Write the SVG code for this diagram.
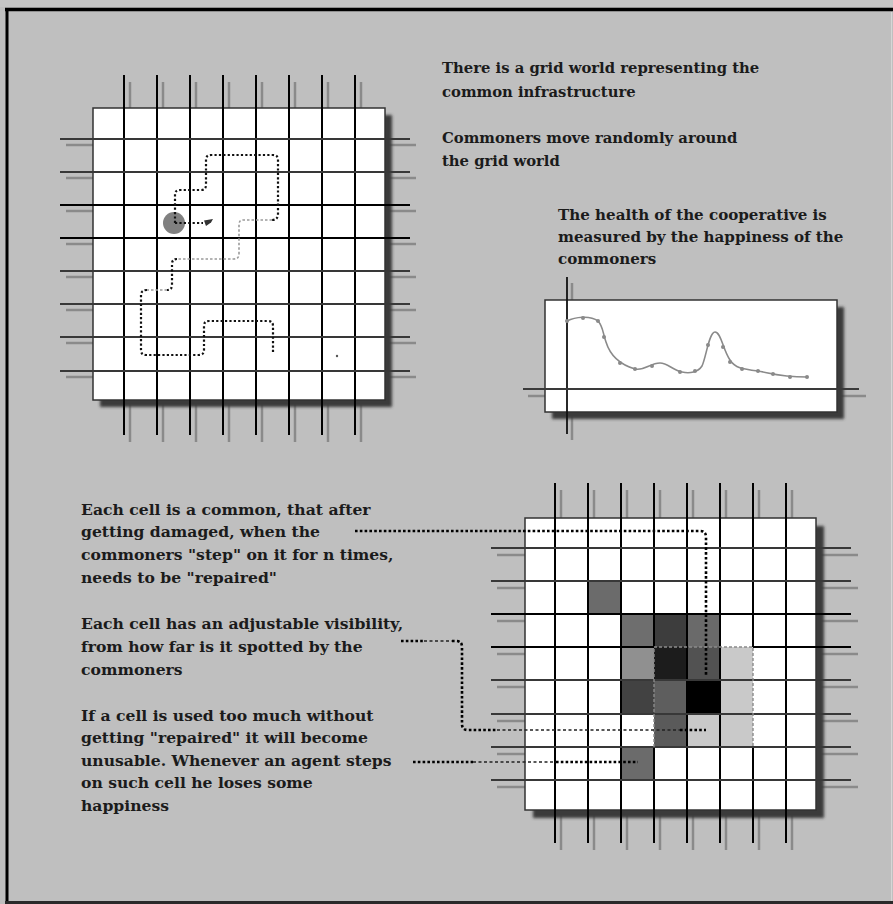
<svg xmlns="http://www.w3.org/2000/svg" width="893" height="904" viewBox="0 0 893 904">
<defs>
<style>
.txt{font-family:"DejaVu Serif","Liberation Serif",serif;font-size:14.8px;font-weight:bold;fill:#1b1b1b}
.txc{font-size:15.1px}
.txb{font-size:15.6px}
.gl{stroke:#000;stroke-width:2;fill:none}
.gl2{stroke:#383838;stroke-width:2;fill:none}
.sh{stroke:#8a8a8a;stroke-width:2.5;fill:none}
.sq{fill:#fff;stroke:#333;stroke-width:1.5}
.sqs{fill:#3a3a3a;filter:url(#blur)}
.walk{fill:none;stroke:#111;stroke-width:2.2;stroke-dasharray:2.2 2.2}
.walkg{fill:none;stroke:#9a9a9a;stroke-width:1.6;stroke-dasharray:2.5 2}
.con{fill:none;stroke:#000;stroke-width:2.6;stroke-dasharray:2.6 2.2}
.conthin{fill:none;stroke:#222;stroke-width:1.4;stroke-dasharray:3 2.5}
.vis{fill:none;stroke:#8a8a8a;stroke-width:1.4;stroke-dasharray:3 2}
.pt{fill:#8a8a8a}
</style>
<filter id="blur" x="-10%" y="-10%" width="120%" height="120%"><feGaussianBlur stdDeviation="1.6"/></filter>
</defs>
<rect x="0" y="0" width="893" height="904" fill="#bfbfbf"/>
<rect x="0" y="0" width="893" height="7" fill="#c6c6c6"/>
<g id="frame">
<line x1="5" y1="9.5" x2="893" y2="9.5" stroke="#000" stroke-width="3.5"/>
<line x1="7" y1="8" x2="7" y2="904" stroke="#000" stroke-width="3"/>
<line x1="5" y1="902.5" x2="893" y2="902.5" stroke="#2a2a2a" stroke-width="3"/>
<line x1="891.5" y1="12" x2="891.5" y2="901" stroke="#d6d6d6" stroke-width="1"/>
</g>

<g id="grid-world">
<path class="sh" d="M130,82V442M163,82V442M196,82V442M229,82V442M262,82V442M295,82V442M328,82V442M361,82V442M66,145H416M66,178H416M66,211H416M66,244H416M66,277H416M66,310H416M66,343H416M66,377H416"/>
<rect class="sqs" x="100" y="115" width="292" height="292"/>
<rect class="sq" x="93" y="108" width="292" height="292"/>
<path class="gl" d="M124,75V435M157,75V435M190,75V435M223,75V435M256,75V435M289,75V435M322,75V435M355,75V435M60,205H410M60,238H410"/>
<path class="gl2" d="M60,139H410M60,172H410M60,271H410M60,304H410M60,337H410M60,371H410"/>
<circle cx="174" cy="223" r="11" fill="#808080"/>
<path class="walk" d="M175,223H203"/>
<path class="walk" d="M175,223V195Q175,190 180,190H201Q206,190 206,185V160Q206,155 211,155H273Q278,155 278,160V214Q278,220 272,220"/>
<path class="walkg" d="M272,220H243Q239,220 239,225V254Q239,259 234,259H177"/>
<path class="walk" d="M177,259Q172,259 172,264V285Q172,290 167,290"/>
<path class="walkg" d="M167,290H147"/>
<path class="walk" d="M147,290Q141,290 141,295V350Q141,355 146,355H199Q204,355 204,350V326Q204,321 209,321H268Q273,321 273,326V353"/>
<path d="M204,220.5L213,219L211,222.5L206,226Z" fill="#333"/>
<circle cx="337" cy="356" r="1.2" fill="#555"/>
</g>

<g id="happiness-chart">
<path class="sh" d="M572,283V440M528,396H866"/>
<rect class="sqs" x="552" y="307" width="292" height="112"/>
<rect class="sq" x="545" y="300" width="292" height="112"/>
<path d="M567,277V434" stroke="#111" stroke-width="1.8" fill="none"/>
<path d="M523,389H859" stroke="#3a3a3a" stroke-width="2" fill="none"/>
<path d="M567,321C575,317 590,315 598,321C603,326 603,334 606,342C610,355 618,364 635,369C645,371 650,363 660,363C668,363 672,370 682,372C690,374 698,372 702,366C706,358 709,332 715,332C721,332 723,350 730,360C735,368 742,369 758,371C770,373 780,377 807,377" fill="none" stroke="#8a8a8a" stroke-width="1.6"/>
<circle class="pt" cx="567" cy="321" r="2"/><circle class="pt" cx="583" cy="318" r="2"/><circle class="pt" cx="598" cy="321" r="2"/><circle class="pt" cx="604" cy="337" r="2"/><circle class="pt" cx="620" cy="363" r="2"/><circle class="pt" cx="635" cy="369" r="2"/><circle class="pt" cx="652" cy="366" r="2"/><circle class="pt" cx="680" cy="372" r="2"/><circle class="pt" cx="695" cy="371" r="2"/><circle class="pt" cx="708" cy="345" r="2"/><circle class="pt" cx="723" cy="347" r="2"/><circle class="pt" cx="730" cy="362" r="2"/><circle class="pt" cx="742" cy="369" r="2"/><circle class="pt" cx="758" cy="371" r="2"/><circle class="pt" cx="773" cy="374" r="2"/><circle class="pt" cx="790" cy="377" r="2"/><circle class="pt" cx="807" cy="377" r="2"/>
</g>

<g id="cell-grid">
<path class="sh" d="M561,490V850M594,490V850M627,490V850M660,490V850M693,490V850M726,490V850M759,490V850M792,490V850M497,555H858M497,588H858M497,621H858M497,654H858M497,687H858M497,721H858M497,754H858M497,787H858"/>
<rect class="sqs" x="533" y="526" width="291" height="292"/>
<rect class="sq" x="525" y="518" width="291" height="292"/>
<rect x="588" y="581" width="33" height="33" fill="#6b6b6b"/>
<rect x="621" y="614" width="33" height="33" fill="#6e6e6e"/>
<rect x="654" y="614" width="33" height="33" fill="#3d3d3d"/>
<rect x="687" y="614" width="33" height="33" fill="#6a6a6a"/>
<rect x="621" y="647" width="33" height="33" fill="#909090"/>
<rect x="654" y="647" width="33" height="33" fill="#1c1c1c"/>
<rect x="687" y="647" width="33" height="33" fill="#525252"/>
<rect x="720" y="647" width="33" height="33" fill="#c9c9c9"/>
<rect x="621" y="680" width="33" height="34" fill="#424242"/>
<rect x="654" y="680" width="33" height="34" fill="#5e5e5e"/>
<rect x="687" y="680" width="33" height="34" fill="#000"/>
<rect x="720" y="680" width="33" height="34" fill="#c9c9c9"/>
<rect x="654" y="714" width="33" height="33" fill="#5a5a5a"/>
<rect x="687" y="714" width="33" height="33" fill="#c9c9c9"/>
<rect x="720" y="714" width="33" height="33" fill="#c9c9c9"/>
<rect x="621" y="747" width="33" height="33" fill="#6b6b6b"/>
<path class="gl" d="M555,483V843M588,483V843M621,483V843M654,483V647M654,747V843M687,483V843M720,483V843M753,483V647M753,747V843M786,483V843M491,614H851M491,647H654M753,647H851"/>
<path class="gl2" d="M491,548H851M491,581H851M491,680H851M491,714H851M491,747H851M491,780H851"/>
<path class="vis" d="M654,747V647H753V747"/>
</g>

<g id="connectors">
<path class="con" d="M355,531H700Q706,531 706,537V677"/>
<path class="con" d="M401,641H424"/>
<path class="conthin" d="M424,641H452"/>
<path class="con" d="M452,641H456Q462,641 462,647V724Q462,730 468,730H497"/>
<path class="conthin" d="M497,730H680"/>
<path class="con" d="M680,730H706"/>
<path class="con" d="M413,762H473"/>
<path class="conthin" d="M473,762H556"/>
<path class="con" d="M556,762H638"/>
</g>

<g id="labels">
<text class="txt" x="442" y="73">There is a grid world representing the</text>
<text class="txt" x="442" y="97">common infrastructure</text>
<text class="txt" x="442" y="143">Commoners move randomly around</text>
<text class="txt" x="442" y="166">the grid world</text>
<text class="txt txc" x="558" y="220">The health of the cooperative is</text>
<text class="txt txc" x="558" y="242">measured by the happiness of the</text>
<text class="txt txc" x="558" y="264">commoners</text>
<text class="txt txb" x="81" y="515">Each cell is a common, that after</text>
<text class="txt txb" x="81" y="537">getting damaged, when the</text>
<text class="txt txb" x="81" y="560">commoners "step" on it for n times,</text>
<text class="txt txb" x="81" y="583">needs to be "repaired"</text>
<text class="txt txb" x="81" y="629">Each cell has an adjustable visibility,</text>
<text class="txt txb" x="81" y="652">from how far is it spotted by the</text>
<text class="txt txb" x="81" y="675">commoners</text>
<text class="txt txb" x="81" y="721">If a cell is used too much without</text>
<text class="txt txb" x="81" y="743">getting "repaired" it will become</text>
<text class="txt txb" x="81" y="766">unusable. Whenever an agent steps</text>
<text class="txt txb" x="81" y="788">on such cell he loses some</text>
<text class="txt txb" x="81" y="811">happiness</text>
</g>
</svg>
